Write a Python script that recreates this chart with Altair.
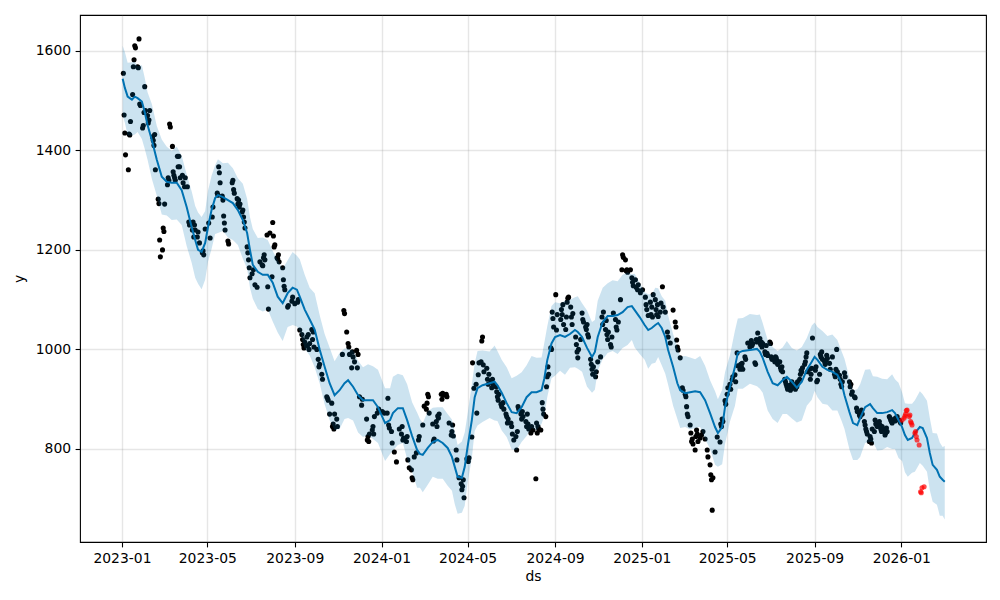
import altair as alt
import pandas as pd

# ---------------- observed history (black points) ----------------
obs_2023 = [
("2023-01-03",1555),("2023-01-04",1471),("2023-01-05",1435),("2023-01-06",1391),("2023-01-10",1361),
("2023-01-11",1433),("2023-01-12",1431),("2023-01-13",1458),("2023-01-16",1512),("2023-01-17",1568),
("2023-01-18",1582),("2023-01-19",1610),("2023-01-20",1606),("2023-01-23",1568),("2023-01-24",1566),
("2023-01-25",1624),("2023-01-26",1493),("2023-01-27",1490),("2023-01-30",1445),("2023-01-31",1450),
("2023-02-01",1476),("2023-02-02",1528),("2023-02-03",1480),("2023-02-06",1470),("2023-02-07",1455),
("2023-02-08",1461),("2023-02-09",1480),("2023-02-13",1427),("2023-02-14",1420),("2023-02-15",1410),
("2023-02-16",1432),("2023-02-17",1361),("2023-02-21",1302),("2023-02-22",1293),("2023-02-23",1220),
("2023-02-24",1186),("2023-02-27",1200),("2023-02-28",1244),("2023-03-01",1237),("2023-03-02",1292),
("2023-03-06",1331),("2023-03-07",1345),("2023-03-08",1340),("2023-03-09",1453),("2023-03-10",1447),
("2023-03-13",1408),("2023-03-14",1357),("2023-03-15",1350),("2023-03-16",1345),("2023-03-17",1340),
("2023-03-20",1388),("2023-03-21",1367),("2023-03-22",1388),("2023-03-23",1367),("2023-03-24",1345),
("2023-03-27",1350),("2023-03-28",1335),("2023-03-30",1327),("2023-03-31",1345),("2023-04-03",1327),
("2023-04-05",1256),("2023-04-06",1250),("2023-04-10",1240),("2023-04-11",1256),("2023-04-12",1226),
("2023-04-13",1250),("2023-04-14",1240),("2023-04-17",1226),("2023-04-18",1236),("2023-04-20",1214),
("2023-04-24",1194),("2023-04-25",1198),("2023-04-26",1190),("2023-04-28",1242),("2023-05-03",1254),
("2023-05-05",1224),("2023-05-08",1266),("2023-05-09",1286),("2023-05-15",1314),("2023-05-16",1310),
("2023-05-17",1367),("2023-05-18",1355),("2023-05-19",1335),("2023-05-22",1308),("2023-05-23",1300),
("2023-05-24",1268),("2023-05-25",1254),("2023-05-26",1240),("2023-05-30",1218),("2023-05-31",1212),
("2023-06-05",1335),("2023-06-06",1340),("2023-06-07",1321),("2023-06-08",1314),("2023-06-12",1303),
("2023-06-13",1292),("2023-06-14",1300),("2023-06-15",1286),("2023-06-16",1292),("2023-06-19",1276),
("2023-06-20",1280),("2023-06-21",1266),("2023-06-22",1256),("2023-06-23",1244),("2023-06-26",1206),
("2023-06-27",1194),("2023-06-28",1180),("2023-06-29",1164),("2023-06-30",1144),("2023-07-03",1152),
("2023-07-05",1160),("2023-07-07",1130),("2023-07-10",1125),("2023-07-14",1176),("2023-07-17",1170),
("2023-07-18",1168),("2023-07-19",1184),("2023-07-20",1190),("2023-07-21",1180),("2023-07-24",1230),
("2023-07-25",1126),("2023-07-26",1081),("2023-07-28",1234),("2023-07-31",1146),("2023-08-01",1255),
("2023-08-02",1228),("2023-08-03",1206),("2023-08-04",1210),("2023-08-07",1184),("2023-08-08",1182),
("2023-08-09",1190),("2023-08-10",1176),("2023-08-15",1164),("2023-08-16",1140),("2023-08-17",1127),
("2023-08-18",1120),("2023-08-22",1085),("2023-08-23",1088),("2023-08-28",1097),("2023-08-29",1105),
("2023-09-01",1092),("2023-09-05",1095),("2023-09-06",1100),("2023-09-08",1039),("2023-09-11",1030),
("2023-09-12",1020),("2023-09-13",1010),("2023-09-14",1003),("2023-09-15",1015),("2023-09-18",1025),
("2023-09-19",1008),("2023-09-20",1030),("2023-09-21",1000),("2023-09-22",1012),("2023-09-25",1040),
("2023-09-26",1020),("2023-09-27",1035),("2023-09-28",1005),("2023-10-02",1000),("2023-10-04",980),
("2023-10-05",965),("2023-10-06",970),("2023-10-09",950),("2023-10-10",940),("2023-10-16",905),
("2023-10-17",902),("2023-10-18",898),("2023-10-20",870),("2023-10-23",892),("2023-10-24",845),
("2023-10-25",850),("2023-10-26",840),("2023-10-27",870),("2023-10-30",860),("2023-10-31",845),
("2023-11-07",990),("2023-11-09",1078),("2023-11-10",1072),("2023-11-13",1035),("2023-11-15",1012),
("2023-11-16",1005),("2023-11-17",990),("2023-11-20",963),("2023-11-21",995),("2023-11-22",985),
("2023-11-24",975),("2023-11-27",998),("2023-11-28",963),("2023-11-29",990),("2023-12-01",905),
("2023-12-04",888),("2023-12-05",900),("2023-12-11",860),("2023-12-12",818),("2023-12-13",825),
("2023-12-14",815),("2023-12-15",830),("2023-12-19",838),("2023-12-20",845),("2023-12-21",830),
("2023-12-22",865),("2023-12-26",872),("2023-12-28",880),
]

obs_2024 = [
("2024-01-02",875),("2024-01-05",872),("2024-01-09",872),("2024-01-10",902),("2024-01-11",848),
("2024-01-12",842),("2024-01-15",835),("2024-01-16",812),("2024-01-19",794),("2024-01-22",774),
("2024-01-26",840),("2024-01-29",830),("2024-01-30",845),("2024-01-31",818),("2024-02-01",822),
("2024-02-02",820),("2024-02-05",815),("2024-02-06",825),("2024-02-07",778),("2024-02-09",762),
("2024-02-12",758),("2024-02-13",742),("2024-02-14",738),("2024-02-16",784),("2024-02-19",792),
("2024-02-22",818),("2024-02-23",825),("2024-02-28",848),("2024-03-01",886),("2024-03-04",880),
("2024-03-05",892),("2024-03-06",910),("2024-03-07",905),("2024-03-08",872),("2024-03-13",850),
("2024-03-14",816),("2024-03-15",820),("2024-03-18",855),("2024-03-19",845),("2024-03-20",866),
("2024-03-21",862),("2024-03-22",870),("2024-03-25",910),("2024-03-26",900),("2024-03-27",912),
("2024-03-28",908),("2024-04-01",910),("2024-04-02",905),("2024-04-05",852),("2024-04-08",828),
("2024-04-09",835),("2024-04-10",848),("2024-04-11",826),("2024-04-15",798),("2024-04-16",778),
("2024-04-19",742),("2024-04-22",730),("2024-04-23",718),("2024-04-24",725),("2024-04-25",738),
("2024-04-26",702),("2024-04-30",780),("2024-05-02",775),("2024-05-03",782),("2024-05-07",824),
("2024-05-08",973),("2024-05-10",922),("2024-05-13",930),("2024-05-14",872),("2024-05-16",949),
("2024-05-17",973),("2024-05-20",975),("2024-05-21",1017),("2024-05-22",1025),("2024-05-23",969),
("2024-05-24",955),("2024-05-28",962),("2024-05-29",940),("2024-05-30",930),("2024-05-31",950),
("2024-06-03",935),("2024-06-04",923),("2024-06-05",940),("2024-06-06",930),("2024-06-10",925),
("2024-06-11",915),("2024-06-12",905),("2024-06-13",898),("2024-06-14",910),("2024-06-17",890),
("2024-06-18",885),("2024-06-20",893),("2024-06-21",880),("2024-06-24",870),("2024-06-25",865),
("2024-06-26",852),("2024-06-27",860),("2024-07-01",852),("2024-07-02",845),("2024-07-03",830),
("2024-07-05",818),("2024-07-08",825),("2024-07-09",798),("2024-07-10",835),("2024-07-11",885),
("2024-07-12",880),("2024-07-15",870),("2024-07-16",860),("2024-07-17",875),("2024-07-18",865),
("2024-07-22",855),("2024-07-23",845),("2024-07-24",870),("2024-07-25",850),("2024-07-26",840),
("2024-07-29",832),("2024-07-30",845),("2024-08-01",838),("2024-08-05",740),("2024-08-06",852),
("2024-08-07",832),("2024-08-08",845),("2024-08-09",840),("2024-08-12",838),("2024-08-14",893),
("2024-08-15",880),("2024-08-16",870),("2024-08-19",865),("2024-08-20",925),("2024-08-21",945),
("2024-08-22",965),("2024-08-23",950),("2024-08-26",1003),("2024-08-27",1000),("2024-08-28",1075),
("2024-08-29",1062),("2024-08-30",1045),("2024-09-02",1110),("2024-09-03",1039),("2024-09-04",1070),
("2024-09-09",1060),("2024-09-10",1080),("2024-09-11",1070),("2024-09-12",1090),("2024-09-13",1050),
("2024-09-16",1040),("2024-09-17",1065),("2024-09-18",1095),("2024-09-19",1103),("2024-09-20",1105),
("2024-09-23",1085),("2024-09-24",1065),("2024-09-25",1050),("2024-09-26",1072),("2024-09-30",1025),
("2024-10-01",1010),("2024-10-02",995),("2024-10-03",983),("2024-10-04",1000),("2024-10-07",1020),
("2024-10-09",1073),("2024-10-10",1060),("2024-10-11",1055),("2024-10-14",1045),("2024-10-15",1040),
("2024-10-16",1050),("2024-10-17",1030),("2024-10-18",1025),("2024-10-21",980),("2024-10-22",970),
("2024-10-23",960),("2024-10-24",950),("2024-10-25",965),("2024-10-28",945),("2024-10-29",955),
("2024-10-31",975),("2024-11-04",985),("2024-11-06",1065),("2024-11-07",1050),("2024-11-08",1075),
("2024-11-11",1040),("2024-11-12",1058),("2024-11-13",1030),("2024-11-14",1020),("2024-11-15",1035),
("2024-11-18",1010),("2024-11-19",1005),("2024-11-20",1025),("2024-11-22",1073),("2024-11-25",1060),
("2024-11-26",1045),("2024-11-27",1039),("2024-11-29",1055),("2024-12-02",1100),("2024-12-04",1160),
("2024-12-05",1190),("2024-12-06",1185),("2024-12-09",1180),("2024-12-10",1158),("2024-12-11",1160),
("2024-12-12",1155),("2024-12-16",1160),("2024-12-18",1144),("2024-12-19",1135),("2024-12-20",1128),
("2024-12-23",1140),("2024-12-24",1125),("2024-12-26",1120),("2024-12-27",1130),("2024-12-30",1114),
]

obs_2025 = [
("2025-01-02",1120),("2025-01-06",1105),("2025-01-07",1090),("2025-01-08",1080),("2025-01-10",1068),
("2025-01-13",1095),("2025-01-14",1070),("2025-01-15",1085),("2025-01-16",1065),("2025-01-17",1110),
("2025-01-20",1100),("2025-01-21",1080),("2025-01-22",1070),("2025-01-23",1090),("2025-01-24",1066),
("2025-01-27",1075),("2025-01-28",1093),("2025-01-30",1126),("2025-01-31",1085),("2025-02-03",1075),
("2025-02-06",1035),("2025-02-07",1025),("2025-02-10",1013),("2025-02-14",1079),("2025-02-17",1055),
("2025-02-18",1045),("2025-02-19",1019),("2025-02-20",1005),("2025-02-21",999),("2025-02-24",983),
("2025-02-27",923),("2025-02-28",918),("2025-03-03",910),("2025-03-04",905),("2025-03-05",885),
("2025-03-06",870),("2025-03-07",865),("2025-03-10",848),("2025-03-11",832),("2025-03-12",815),
("2025-03-13",820),("2025-03-14",810),("2025-03-17",798),("2025-03-18",825),("2025-03-19",838),
("2025-03-20",830),("2025-03-21",815),("2025-03-24",822),("2025-03-26",828),("2025-03-28",835),
("2025-03-31",820),("2025-04-03",798),("2025-04-04",784),("2025-04-07",768),("2025-04-08",748),
("2025-04-09",738),("2025-04-10",677),("2025-04-11",742),("2025-04-14",794),("2025-04-17",824),
("2025-04-21",814),("2025-04-22",850),("2025-04-23",845),("2025-04-24",860),("2025-04-25",855),
("2025-04-28",897),("2025-04-29",890),("2025-05-01",910),("2025-05-02",923),("2025-05-05",930),
("2025-05-06",920),("2025-05-08",939),("2025-05-09",945),("2025-05-12",949),("2025-05-13",935),
("2025-05-15",993),("2025-05-16",967),("2025-05-19",960),("2025-05-20",970),("2025-05-21",965),
("2025-05-22",972),("2025-05-23",960),("2025-05-26",985),("2025-05-27",980),("2025-05-30",1013),
("2025-06-02",1005),("2025-06-03",1010),("2025-06-04",1018),("2025-06-05",1008),("2025-06-06",1012),
("2025-06-09",973),("2025-06-10",970),("2025-06-11",1020),("2025-06-12",1015),("2025-06-13",1033),
("2025-06-16",1022),("2025-06-17",1010),("2025-06-18",1015),("2025-06-19",1005),("2025-06-20",1012),
("2025-06-23",995),("2025-06-24",990),("2025-06-25",1008),("2025-06-26",992),("2025-06-27",988),
("2025-06-30",1015),("2025-07-01",1012),("2025-07-02",985),("2025-07-03",980),("2025-07-07",975),
("2025-07-08",985),("2025-07-09",983),("2025-07-10",978),("2025-07-11",970),("2025-07-14",975),
("2025-07-15",963),("2025-07-16",958),("2025-07-17",965),("2025-07-18",955),("2025-07-21",940),
("2025-07-22",935),("2025-07-23",930),("2025-07-24",925),("2025-07-25",920),("2025-07-28",928),
("2025-07-29",918),("2025-07-30",922),("2025-07-31",935),("2025-08-01",930),("2025-08-04",925),
("2025-08-05",920),("2025-08-06",930),("2025-08-07",925),("2025-08-08",935),("2025-08-11",940),
("2025-08-12",950),("2025-08-13",958),("2025-08-14",955),("2025-08-15",963),("2025-08-18",970),
("2025-08-19",975),("2025-08-20",985),("2025-08-21",993),("2025-08-22",955),("2025-08-25",960),
("2025-08-26",940),("2025-08-27",950),("2025-08-28",962),("2025-08-29",1023),("2025-09-02",958),
("2025-09-03",965),("2025-09-04",935),("2025-09-05",938),("2025-09-08",950),("2025-09-09",990),
("2025-09-10",985),("2025-09-11",995),("2025-09-12",980),("2025-09-15",975),("2025-09-16",970),
("2025-09-17",978),("2025-09-18",988),("2025-09-19",982),("2025-09-22",972),("2025-09-23",960),
("2025-09-26",985),("2025-09-29",950),("2025-09-30",945),("2025-10-01",960),("2025-10-02",1000),
("2025-10-03",955),("2025-10-06",948),("2025-10-07",940),("2025-10-08",930),("2025-10-09",925),
("2025-10-10",935),("2025-10-13",953),("2025-10-14",945),("2025-10-20",935),("2025-10-21",925),
("2025-10-22",930),("2025-10-23",910),("2025-10-24",915),("2025-10-27",905),("2025-10-28",903),
("2025-10-30",882),("2025-10-31",875),("2025-11-03",868),("2025-11-04",865),("2025-11-05",872),
("2025-11-06",878),("2025-11-07",870),("2025-11-10",855),("2025-11-11",848),("2025-11-12",840),
("2025-11-13",835),("2025-11-14",830),("2025-11-17",815),("2025-11-18",825),("2025-11-19",820),
("2025-11-20",812),("2025-11-21",840),("2025-11-24",835),("2025-11-25",858),("2025-11-26",850),
("2025-11-28",845),("2025-12-01",855),("2025-12-02",848),("2025-12-03",840),("2025-12-04",835),
("2025-12-05",845),("2025-12-08",838),("2025-12-09",828),("2025-12-10",832),("2025-12-11",842),
("2025-12-12",835),("2025-12-15",865),("2025-12-16",862),("2025-12-17",858),("2025-12-18",855),
("2025-12-19",852),("2025-12-22",860),("2025-12-23",856),("2025-12-24",862),("2025-12-26",865),
("2025-12-29",858),("2025-12-30",855),("2025-12-31",852),
]

# ---------------- held-out actuals (red points) ----------------
test_obs = [
("2026-01-02",858),("2026-01-05",862),("2026-01-06",866),("2026-01-07",870),("2026-01-08",877),
("2026-01-09",878),("2026-01-12",865),("2026-01-13",868),("2026-01-14",855),("2026-01-15",852),
("2026-01-16",848),("2026-01-20",832),("2026-01-21",835),("2026-01-22",825),("2026-01-23",818),
("2026-01-26",808),("2026-01-28",714),("2026-01-29",712),("2026-01-30",722),("2026-02-02",724),
]

# ---------------- forecast: (ds, yhat, yhat_lower, yhat_upper) ----------------
fc_2023 = [
("2023-01-02",1544,1470,1610),("2023-01-05",1526,1456,1598),("2023-01-09",1508,1430,1576),
("2023-01-15",1502,1430,1577),("2023-01-19",1508,1432,1578),("2023-01-23",1505,1437,1569),
("2023-01-29",1498,1423,1571),("2023-02-02",1477,1403,1546),("2023-02-06",1451,1381,1517),
("2023-02-12",1421,1343,1493),("2023-02-19",1381,1309,1449),("2023-02-26",1347,1271,1422),
("2023-03-05",1337,1269,1407),("2023-03-12",1335,1260,1399),("2023-03-19",1335,1261,1408),
("2023-03-26",1320,1250,1389),("2023-04-02",1286,1208,1352),("2023-04-09",1246,1174,1318),
("2023-04-14",1220,1144,1288),("2023-04-18",1200,1132,1275),("2023-04-23",1196,1121,1266),
("2023-04-28",1214,1140,1278),("2023-05-02",1246,1176,1319),("2023-05-07",1280,1202,1349),
("2023-05-12",1304,1232,1370),("2023-05-16",1310,1234,1382),("2023-05-23",1306,1238,1374),
("2023-05-30",1300,1225,1375),("2023-06-06",1294,1220,1364),("2023-06-13",1280,1210,1344),
("2023-06-20",1260,1182,1333),("2023-06-26",1234,1162,1303),("2023-06-30",1200,1124,1266),
("2023-07-04",1170,1102,1242),("2023-07-11",1156,1081,1224),("2023-07-18",1150,1076,1225),
("2023-07-25",1150,1080,1220),("2023-08-01",1134,1056,1198),("2023-08-08",1106,1034,1179),
("2023-08-15",1093,1017,1162),("2023-08-22",1113,1045,1179),("2023-08-29",1124,1049,1196),
("2023-09-04",1120,1046,1188),("2023-09-08",1106,1036,1181),("2023-09-15",1080,1002,1150),
("2023-09-22",1060,988,1124),("2023-09-29",1040,964,1113),("2023-10-06",1000,932,1069),
("2023-10-13",965,890,1031),("2023-10-20",932,858,1004),("2023-10-27",908,838,976),
("2023-11-03",918,840,993),("2023-11-10",932,860,1002),("2023-11-15",938,862,1002),
("2023-11-22",925,857,998),("2023-11-29",908,833,977),("2023-12-06",898,824,964),
("2023-12-13",898,828,970),("2023-12-20",898,820,966),("2023-12-27",884,812,959),
]
fc_2024 = [
("2024-01-06",852,776,922),("2024-01-13",858,790,922),("2024-01-17",872,797,945),
("2024-01-24",882,808,951),("2024-01-31",882,812,948),("2024-02-06",858,780,930),
("2024-02-13",826,754,894),("2024-02-20",798,722,873),("2024-02-24",790,722,860),
("2024-02-28",788,713,852),("2024-03-06",802,728,875),("2024-03-13",814,744,883),
("2024-03-20",818,740,884),("2024-03-27",812,740,884),("2024-04-03",802,726,870),
("2024-04-09",784,716,859),("2024-04-13",764,689,834),("2024-04-17",744,670,808),
("2024-04-23",742,672,815),("2024-04-27",764,686,833),("2024-05-01",804,732,870),
("2024-05-07",858,782,930),("2024-05-11",904,836,972),("2024-05-15",922,847,997),
("2024-05-22",928,854,998),("2024-06-01",932,862,996),("2024-06-08",935,857,1008),
("2024-06-12",928,856,997),("2024-06-18",913,837,979),("2024-06-25",892,824,964),
("2024-07-02",874,799,942),("2024-07-09",872,798,947),("2024-07-16",884,814,954),
("2024-07-23",904,826,968),("2024-07-30",914,842,987),("2024-08-06",914,838,983),
("2024-08-13",918,850,984),("2024-08-17",942,867,1014),("2024-08-21",978,904,1046),
("2024-08-27",1012,942,1087),("2024-09-01",1025,947,1095),("2024-09-08",1029,957,1093),
("2024-09-15",1025,949,1098),("2024-09-22",1031,963,1100),("2024-09-29",1039,964,1105),
("2024-10-03",1035,961,1107),("2024-10-09",1025,955,1093),("2024-10-16",1003,925,1078),
("2024-10-23",985,913,1055),("2024-10-27",995,919,1059),("2024-10-31",1025,957,1098),
("2024-11-07",1055,980,1124),("2024-11-14",1067,993,1133),("2024-11-21",1067,997,1139),
("2024-11-28",1069,991,1137),("2024-12-05",1075,1003,1150),("2024-12-12",1085,1009,1155),
("2024-12-18",1087,1019,1151),("2024-12-22",1079,1004,1152),("2024-12-29",1065,991,1134),
]
fc_2025 = [
("2025-01-05",1049,979,1115),("2025-01-10",1039,961,1111),("2025-01-15",1043,971,1111),
("2025-01-20",1049,973,1124),("2025-01-24",1053,985,1123),("2025-01-29",1043,968,1107),
("2025-02-03",1025,951,1098),("2025-02-07",999,929,1068),("2025-02-14",965,887,1031),
("2025-02-20",932,860,1004),("2025-02-24",918,842,986),("2025-03-03",912,844,987),
("2025-03-10",914,839,984),("2025-03-17",916,842,980),("2025-03-24",914,844,987),
("2025-03-31",898,820,967),("2025-04-07",872,800,938),("2025-04-14",844,768,916),
("2025-04-18",832,764,900),("2025-04-24",844,769,919),("2025-04-28",884,810,954),
("2025-05-05",925,855,989),("2025-05-12",965,887,1038),("2025-05-16",993,921,1062),
("2025-05-23",997,921,1063),("2025-06-02",999,931,1071),("2025-06-12",1001,926,1069),
("2025-06-16",995,921,1070),("2025-06-20",983,913,1053),("2025-06-27",955,877,1019),
("2025-07-04",932,860,1005),("2025-07-11",928,852,997),("2025-07-18",938,870,1004),
("2025-07-24",945,870,1017),("2025-07-31",935,861,1003),("2025-08-07",923,853,998),
("2025-08-14",935,857,1005),("2025-08-21",959,887,1023),("2025-08-28",975,899,1048),
("2025-09-01",985,917,1054),("2025-09-05",979,904,1045),("2025-09-12",965,891,1037),
("2025-09-19",959,889,1027),("2025-09-26",955,877,1030),("2025-10-03",949,877,1019),
("2025-10-09",932,856,996),("2025-10-13",908,840,981),("2025-10-20",874,799,943),
("2025-10-25",852,778,918),("2025-10-31",848,778,920),("2025-11-04",862,784,930),
("2025-11-11",884,812,959),("2025-11-18",890,814,960),("2025-11-22",882,814,946),
("2025-11-28",872,797,945),("2025-12-05",872,798,941),("2025-12-12",874,804,940),
("2025-12-19",878,800,950),("2025-12-23",872,800,940),("2025-12-28",858,782,933),
]
fc_2026 = [
("2026-01-02",844,776,914),("2026-01-06",828,753,892),("2026-01-10",818,744,891),
("2026-01-16",822,752,891),("2026-01-20",832,754,898),("2026-01-27",844,772,916),
("2026-01-31",842,766,910),("2026-02-06",822,754,897),("2026-02-10",792,717,862),
("2026-02-14",768,694,832),("2026-02-20",758,688,831),("2026-02-24",744,666,813),
("2026-02-28",738,666,804),("2026-03-03",734,658,806),
]

x_ticks = ["2023-01", "2023-05", "2023-09", "2024-01", "2024-05", "2024-09",
           "2025-01", "2025-05", "2025-09", "2026-01"]
y_ticks = [800, 1000, 1200, 1400, 1600]

# ---------------- tables ----------------
obs_df = pd.DataFrame(obs_2023 + obs_2024 + obs_2025, columns=["ds", "y"])
test_df = pd.DataFrame(test_obs, columns=["ds", "y"])
fc_df = pd.DataFrame(fc_2023 + fc_2024 + fc_2025 + fc_2026,
                     columns=["ds", "yhat", "yhat_lower", "yhat_upper"])

FONT = "DejaVu Sans"
FS = 13.9

def dt(s):
    y, m = s.split("-")[:2]
    return alt.DateTime(year=int(y), month=int(m), date=1)

x_scale = alt.Scale(domain=[alt.DateTime(year=2022, month=11, date=3),
                            alt.DateTime(year=2026, month=4, date=30)])
y_scale = alt.Scale(domain=[613, 1672], nice=False, zero=False)

x_axis = alt.Axis(values=[dt(t) for t in x_ticks], format="%Y-%m", title="ds",
                  labelFlush=False, titlePadding=4)
y_axis = alt.Axis(values=y_ticks, format="d", title="y", titlePadding=9)

def X():
    return alt.X("ds:T", scale=x_scale, axis=x_axis, title="ds")

band = alt.Chart(fc_df).mark_area(color="#0072B2", opacity=0.2).encode(
    x=X(),
    y=alt.Y("yhat_lower:Q", scale=y_scale, axis=y_axis, title="y"),
    y2="yhat_upper:Q",
)

pts = alt.Chart(obs_df).mark_circle(color="black", size=26, opacity=1).encode(
    x=X(),
    y=alt.Y("y:Q", scale=y_scale, axis=y_axis, title="y"),
)

line = alt.Chart(fc_df).mark_line(color="#0072B2", strokeWidth=2).encode(
    x=X(),
    y=alt.Y("yhat:Q", scale=y_scale, axis=y_axis, title="y"),
)

red = alt.Chart(test_df).mark_circle(color="red", size=26, opacity=0.7).encode(
    x=X(),
    y=alt.Y("y:Q", scale=y_scale, axis=y_axis, title="y"),
)

chart = alt.layer(pts, line, band, red).properties(
    width=906, height=527,
    autosize=alt.AutoSizeParams(type="none"),
    padding={"left": 72, "top": 7, "right": 6, "bottom": 50},
).configure_axis(
    labelFont=FONT, labelFontSize=FS, labelColor="black",
    titleFont=FONT, titleFontSize=FS, titleFontWeight="normal", titleColor="black",
    tickColor="black", tickSize=4.9, tickWidth=1.1, labelPadding=4.5,
    domain=False, grid=True, gridColor="#808080", gridOpacity=0.2, gridWidth=1.4,
).configure_view(stroke="black", strokeWidth=1.1)

chart.save("out.html", embed_options={"renderer": "svg", "actions": False})
